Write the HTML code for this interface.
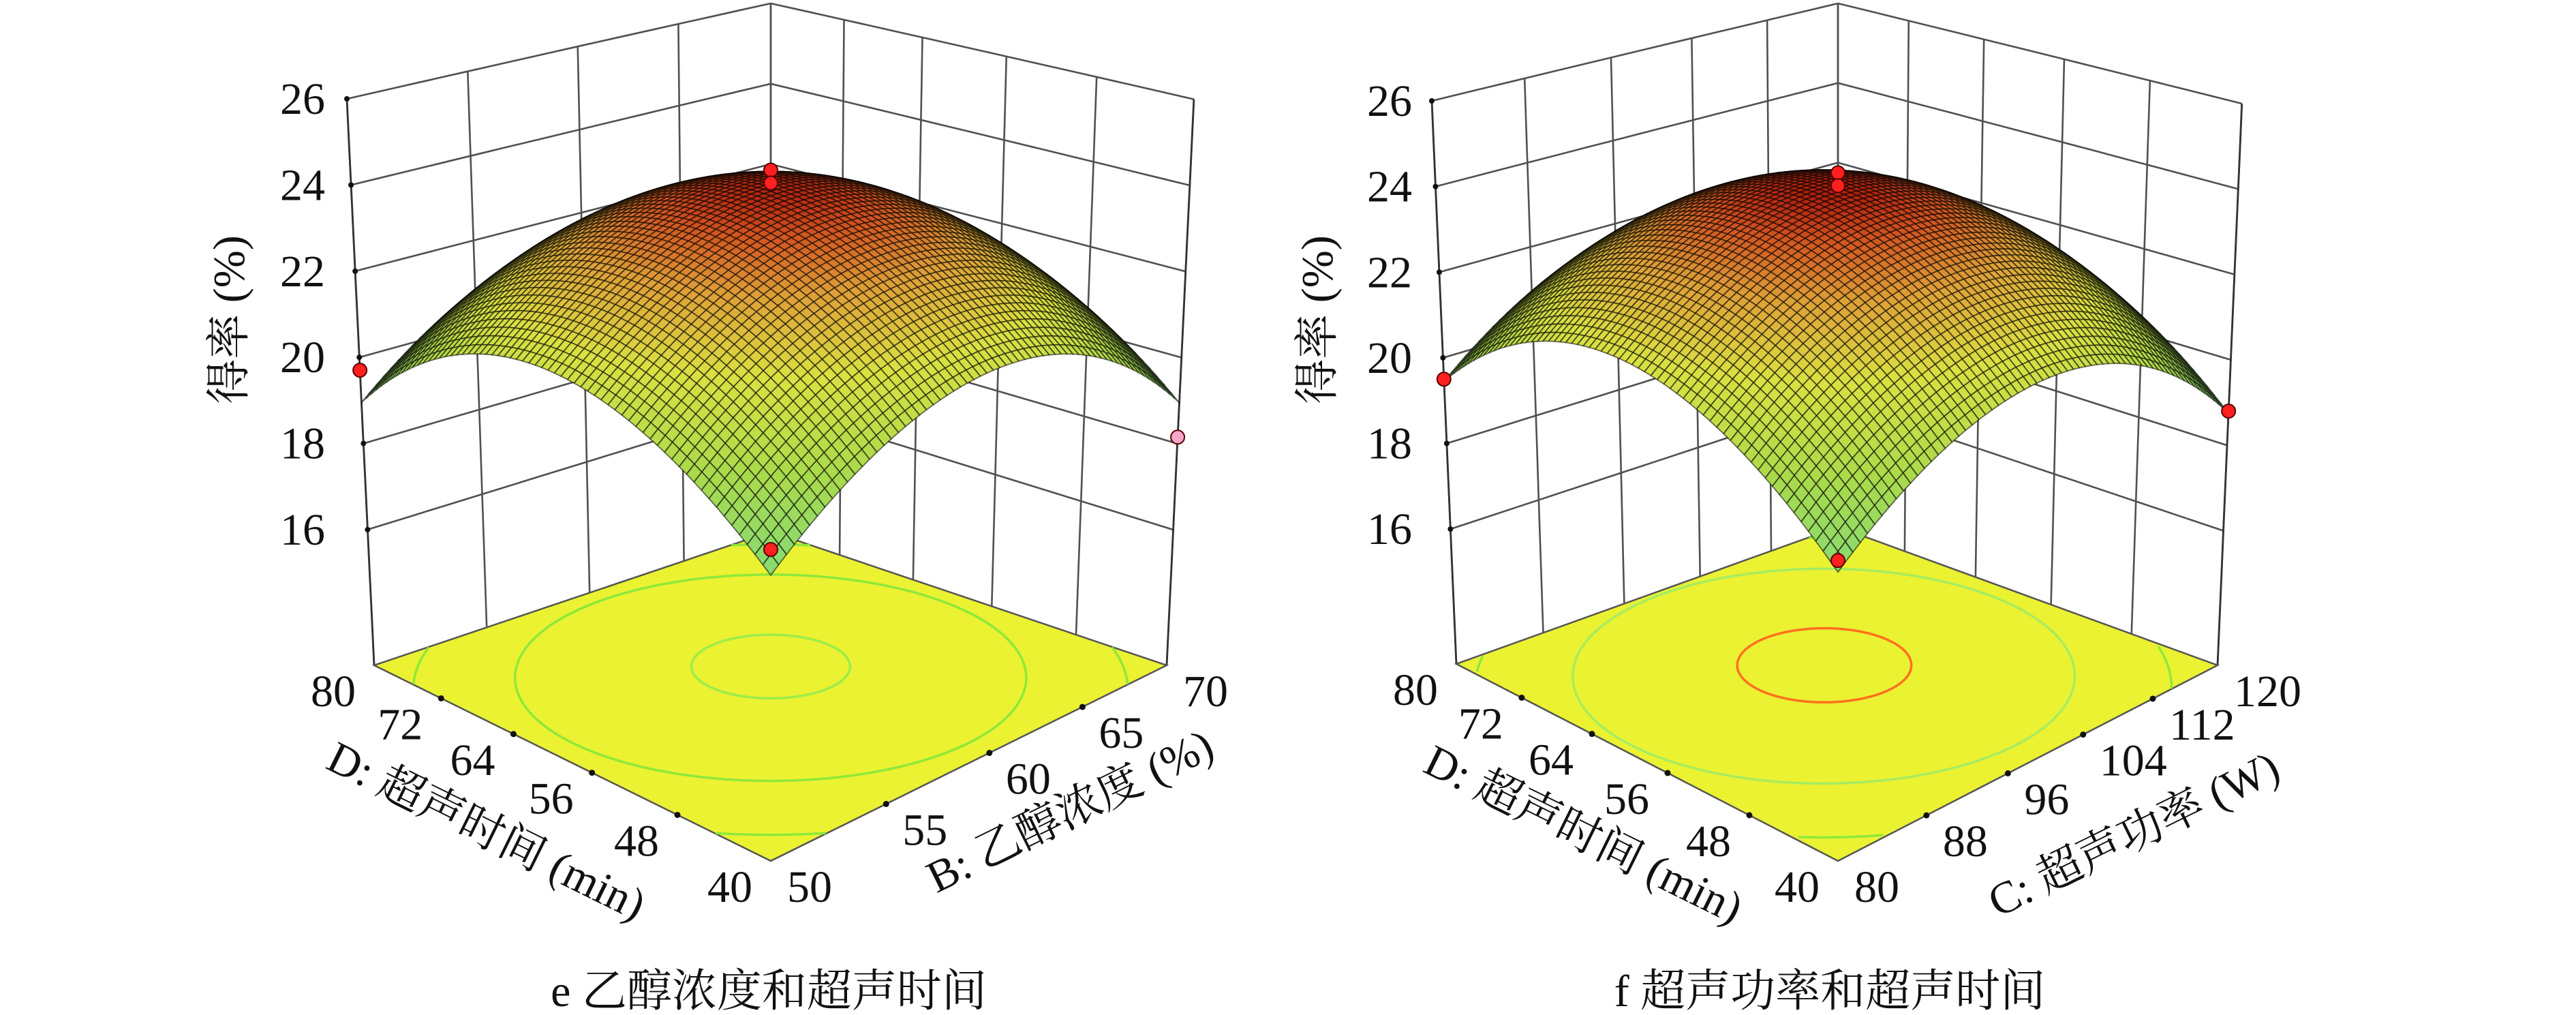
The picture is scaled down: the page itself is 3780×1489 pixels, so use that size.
<!DOCTYPE html>
<html><head><meta charset="utf-8">
<style>
html,body{margin:0;padding:0;background:#fff;}
svg{display:block;}
text{font-family:"Liberation Serif","Noto Serif CJK SC","Noto Sans CJK SC",serif;fill:#111;}
</style></head>
<body>
<svg id="fig" width="3780" height="1489" viewBox="0 0 3780 1489" xmlns="http://www.w3.org/2000/svg" font-family="Liberation Serif, Noto Serif CJK SC, serif">
<rect x="0" y="0" width="3780" height="1489" fill="#fff"/>
<g id="chartE"></g>
<g id="chartF"></g>
<text x="1128" y="1476" font-size="66" text-anchor="middle" font-family="Liberation Serif, Noto Serif CJK SC, serif">e 乙醇浓度和超声时间</text>
<text x="2685" y="1476" font-size="66" text-anchor="middle" font-family="Liberation Serif, Noto Serif CJK SC, serif">f 超声功率和超声时间</text>
<text x="343" y="469" font-size="66" text-anchor="middle" dominant-baseline="middle" transform="rotate(-90 343 469)" font-family="Liberation Serif, Noto Serif CJK SC, serif">得率 (%)</text>
<text x="711" y="1225" font-size="66" text-anchor="middle" dominant-baseline="middle" transform="rotate(26.2 711 1225)" font-family="Liberation Serif, Noto Serif CJK SC, serif">D: 超声时间 (min)</text>
<text x="1573" y="1196" font-size="66" text-anchor="middle" dominant-baseline="middle" transform="rotate(-26.2 1573 1196)" font-family="Liberation Serif, Noto Serif CJK SC, serif">B: 乙醇浓度 (%)</text>
<text x="1940" y="469" font-size="66" text-anchor="middle" dominant-baseline="middle" transform="rotate(-90 1940 469)" font-family="Liberation Serif, Noto Serif CJK SC, serif">得率 (%)</text>
<text x="2321" y="1230" font-size="66" text-anchor="middle" dominant-baseline="middle" transform="rotate(26.2 2321 1230)" font-family="Liberation Serif, Noto Serif CJK SC, serif">D: 超声时间 (min)</text>
<text x="3134" y="1230" font-size="66" text-anchor="middle" dominant-baseline="middle" transform="rotate(-26.2 3134 1230)" font-family="Liberation Serif, Noto Serif CJK SC, serif">C: 超声功率 (W)</text>
</svg>
<script>
const NS='http://www.w3.org/2000/svg';
const FONT='Liberation Serif, Noto Serif CJK SC, serif';
// shared z axis
const zTicks=[16,18,20,22,24,26];
// chart e data
const eDTicks=[40,48,56,64,72,80];
const eBTicks=[50,55,60,65,70];
const eCoef=[23.95,0,0,-2.5,-2.5,0]; // b0, bD, bX, bDD, bXX, bDX (coded units)
const eLevels=[20,21.9,23.75];
const eLevelColors=['#8ee83a','#8ee83a','#9cec4a'];
const ePointD=[60,60,80,40,40];
const ePointX=[60,60,50,50,70];
const ePointZ=[24.35,24.05,19.7,19.5,18.15];
const ePointFill=['#ff2020','#ff2020','#ff2020','#ff2020','#f6a8c8'];
// chart f data
const fDTicks=[40,48,56,64,72,80];
const fCTicks=[80,88,96,104,112,120];
const fCoef=[24.0,0.2,-0.15,-2.45,-2.45,0];
const fLevels=[20,21.9,23.75];
const fLevelColors=['#8ee83a','#a6ec60','#ff7020'];
const fPointD=[60,60,80,40,40];
const fPointX=[100,100,80,80,120];
const fPointZ=[24.35,24.05,19.5,19.3,18.8];
const fPointFill=['#ff2020','#ff2020','#ff2020','#ff2020','#ff2020'];

function el(tag,attrs,parent){const e=document.createElementNS(NS,tag);for(const k in attrs)e.setAttribute(k,attrs[k]);parent.appendChild(e);return e;}

function build(g,cfg){
  const [x0,y0]=cfg.front,[x1,y1]=cfg.left,[x2,y2]=cfg.back,[x3,y3]=cfg.right;
  const sx=x0-x1+x2-x3, sy=y0-y1+y2-y3;
  const dx1=x1-x2,dx2=x3-x2,dy1=y1-y2,dy2=y3-y2;
  const den=dx1*dy2-dx2*dy1;
  const gg=(sx*dy2-dx2*sy)/den, hh=(dx1*sy-sx*dy1)/den;
  const a=x1-x0+gg*x1,b=x3-x0+hh*x3,c=x0,d=y1-y0+gg*y1,e=y3-y0+hh*y3,f=y0;
  function fl(u,v){const q=gg*u+hh*v+1;return {x:(a*u+b*v+c)/q,y:(d*u+e*v+f)/q,s:1/q};}
  const sL=fl(1,0).s,sB=fl(1,1).s;
  const Hl=cfg.left[1]-cfg.leftTop[1], Hb=cfg.back[1]-cfg.backTopY;
  const alpha=Math.log(Hb/Hl)/Math.log(sB/sL);
  const cx=cfg.back[0];
  const VPy=cfg.left[1]+(cx-cfg.left[0])*(cfg.leftTop[1]-cfg.left[1])/(cfg.leftTop[0]-cfg.left[0]);
  const zmin=cfg.zmin,zmax=26;
  function P(u,v,z){const p=fl(u,v);const w=(z-zmin)/(zmax-zmin);const H=Hl*Math.pow(p.s/sL,alpha);const h=w*H;const t=h/(VPy-p.y);return {x:p.x+(p.x-cx)*t,y:p.y-h,s:p.s};}
  const uOf=D=>(D-cfg.d0)/(cfg.d1-cfg.d0);
  const vOf=X=>(X-cfg.x0)/(cfg.x1-cfg.x0);
  const C=cfg.coef;
  function Z(u,v){const p=2*u-1,q=2*v-1;return C[0]+C[1]*p+C[2]*q+C[3]*p*p+C[4]*q*q+C[5]*p*q;}
  function poly(pts){return pts.map(p=>p.x.toFixed(1)+','+p.y.toFixed(1)).join(' ');}
  function line(pts,stroke,sw,name){const l=el('polyline',{points:poly(pts),fill:'none',stroke:stroke,'stroke-width':sw},g);
    
    return l;}
  const N=12;
  zTicks.forEach(z=>{
    const a1=[],a2=[];for(let i=0;i<=N;i++){a1.push(P(1,i/N,z));a2.push(P(i/N,1,z));}
    line(a1,'#505050',2.6,'left-wall-gridline-z'+z);line(a2,'#505050',2.6,'right-wall-gridline-z'+z);
  });
  const zs=[];for(let i=0;i<=N;i++)zs.push(zmin+(zmax-zmin)*i/N);
  cfg.xTicks.forEach(X=>{const v=vOf(X);line(zs.map(z=>P(1,v,z)),'#505050',2.6,'left-wall-gridline-x'+X);});
  cfg.dTicks.forEach(D=>{const u=uOf(D);line(zs.map(z=>P(u,1,z)),'#505050',2.6,'right-wall-gridline-d'+D);});
  line(zs.map(z=>P(1,0,z)),'#333',2.8,'z-axis-line');
  line(zs.map(z=>P(0,1,z)),'#333',2.8,'right-edge-line');
  zTicks.forEach(z=>{const p=P(1,0,z);
    const dt=el('circle',{cx:p.x,cy:p.y,r:4,fill:'#111'},g);
    
    
    const t=el('text',{x:cfg.zLabelX,y:p.y+22,'font-size':66,'text-anchor':'end','font-family':FONT},g);t.textContent=z;
    
    
  });
  const fp=el('polygon',{points:poly([fl(0,0),fl(1,0),fl(1,1),fl(0,1)]),fill:'#eaf232',stroke:'#555','stroke-width':2.5},g);
  
  
  let best={u:.5,v:.5,z:-1e9};
  for(let i=0;i<=100;i++)for(let j=0;j<=100;j++){const z=Z(i/100,j/100);if(z>best.z)best={u:i/100,v:j/100,z:z};}
  cfg.levels.forEach((L,k)=>{
    if(L>=best.z)return;
    let segs=[],cur=[];
    for(let a=0;a<=360;a+=1.5){const th=a*Math.PI/180,du=Math.cos(th),dv=Math.sin(th);
      let lo=0,hi=1.2;for(let it=0;it<40;it++){const m=(lo+hi)/2;if(Z(best.u+du*m,best.v+dv*m)>L)lo=m;else hi=m;}
      const u=best.u+du*lo,v=best.v+dv*lo;
      if(u<0||u>1||v<0||v>1){if(cur.length>1)segs.push(cur);cur=[];}else cur.push(P(u,v,zmin));}
    if(cur.length>1)segs.push(cur);
    segs.forEach((s,si)=>line(s,cfg.levelColors[k],3.5,'floor-contour-'+L+'-'+si));
  });
  cfg.dTicks.forEach(D=>{const p=fl(uOf(D),0);
    if(D!==cfg.d0&&D!==cfg.d1){const dt=el('circle',{cx:p.x,cy:p.y,r:4.5,fill:'#111'},g);
      
      }
    const t=el('text',{x:p.x-27,y:p.y+60,'font-size':66,'text-anchor':'end','font-family':FONT},g);t.textContent=D;
    
    
  });
  cfg.xTicks.forEach(X=>{const p=fl(0,vOf(X));
    if(X!==cfg.x0&&X!==cfg.x1){const dt=el('circle',{cx:p.x,cy:p.y,r:4.5,fill:'#111'},g);
      
      }
    const t=el('text',{x:p.x+24,y:p.y+60,'font-size':66,'text-anchor':'start','font-family':FONT},g);t.textContent=X;
    
    
  });
  const M=64,quads=[];
  for(let i=0;i<M;i++)for(let j=0;j<M;j++){
    const u0=i/M,u1=(i+1)/M,v0=j/M,v1=(j+1)/M;
    const pts=[P(u0,v0,Z(u0,v0)),P(u1,v0,Z(u1,v0)),P(u1,v1,Z(u1,v1)),P(u0,v1,Z(u0,v1))];
    quads.push({pts:pts,s:fl((u0+u1)/2,(v0+v1)/2).s,z:Z((u0+u1)/2,(v0+v1)/2)});
  }
  quads.sort((A,B)=>A.s-B.s);
  const stops=[[0,[120,218,130]],[.35,[170,218,75]],[.6,[218,224,66]],[.8,[222,160,55]],[.93,[210,85,32]],[1,[175,32,14]]];
  function col(z){let t=(z-18.5)/(24.0-18.5);t=Math.max(0,Math.min(1,t));
    for(let k=1;k<stops.length;k++)if(t<=stops[k][0]){const [ta,ca]=stops[k-1],[tb,cb]=stops[k];const r=(t-ta)/(tb-ta);
      return 'rgb('+ca.map((c,i)=>Math.round(c+(cb[i]-c)*r)).join(',')+')';}
    return 'rgb(175,32,14)';}
  const sg=el('g',{},g);
  
  
  quads.forEach(q=>{const p=el('polygon',{points:poly(q.pts),fill:col(q.z),stroke:'rgba(0,0,0,0.55)','stroke-width':1.8,'stroke-linejoin':'round'},sg);
    
    });
  cfg.pD.forEach((D,i)=>{const p=P(uOf(D),vOf(cfg.pX[i]),cfg.pZ[i]);
    const c=el('circle',{cx:p.x,cy:p.y,r:10,fill:cfg.pFill[i],stroke:'#5a0000','stroke-width':2},g);
    
    });
}

build(document.getElementById('chartE'),{front:[1131,1263],left:[549,976],back:[1131,780],right:[1712,976],leftTop:[509,145],backTopY:5,zmin:12.85,zLabelX:477,
  d0:40,d1:80,x0:50,x1:70,dTicks:eDTicks,xTicks:eBTicks,coef:eCoef,levels:eLevels,levelColors:eLevelColors,pD:ePointD,pX:ePointX,pZ:ePointZ,pFill:ePointFill});
build(document.getElementById('chartF'),{front:[2697,1263],left:[2137,974],back:[2697,773],right:[3254,976],leftTop:[2101,148],backTopY:5,zmin:12.85,zLabelX:2072,
  d0:40,d1:80,x0:80,x1:120,dTicks:fDTicks,xTicks:fCTicks,coef:fCoef,levels:fLevels,levelColors:fLevelColors,pD:fPointD,pX:fPointX,pZ:fPointZ,pFill:fPointFill});
</script>
</body></html>
